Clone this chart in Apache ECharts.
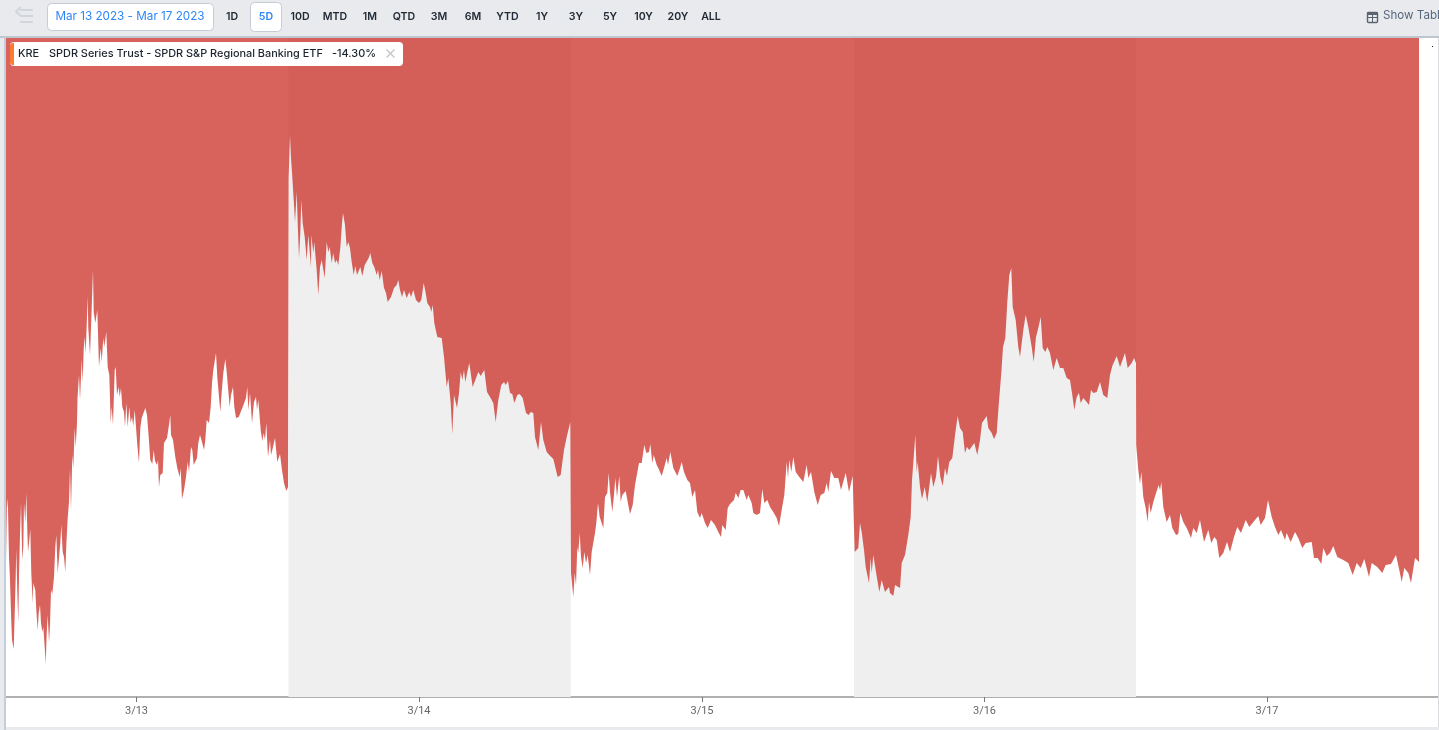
<!DOCTYPE html>
<html>
<head>
<meta charset="utf-8">
<title>KRE</title>
<style>html,body{margin:0;padding:0;background:#fff;overflow:hidden}#c{width:1439px;height:730px}</style>
<script src="https://cdn.jsdelivr.net/npm/echarts@6/dist/echarts.min.js"></script>
</head>
<body>
<div id="c"></div>
<script>
// Tick labels and where they sit on the session clock
const tickLabels = ['3/13','3/14','3/15','3/16','3/17'];
const tickTimes = [130.5,413,696,978.5,1261];
// Alternate day shading [from, to]
const shadedDays = [[282.5,564.8],[848,1130]];
const rangeButtons = ['1D','5D','10D','MTD','1M','QTD','3M','6M','YTD','1Y','3Y','5Y','10Y','20Y','ALL'];
const rangeCenters = [232,266,300,335,370,404,439,473,507.5,542,576,610,643.5,678,711];
const symbolName = 'KRE';
const fundName = 'SPDR Series Trust - SPDR S&P Regional Banking ETF';
const changeText = '-14.30%';

// [session time, level]
const day1 = [[0,137],[1,199],[2,189],[3,140],[4,117],[5,84],[6,57],[7.7,48],[8.7,84],[9.7,120],[10.3,148],[11.3,104],[12.3,75],[13,122],[14,162],[15,194],[16.3,137],[17.3,150],[18,194],[19.3,174],[20.3,204],[21.3,167],[22,145],[23.3,157],[24.3,168],[25.3,124],[26.7,94],[27.3,114],[29.3,107],[30.3,87],[31.7,67],[32.7,84],[34,92],[35,74],[36.3,65],[37.3,70],[38.7,50],[39.7,33],[40.7,64],[41.7,82],[43,55],[44,72],[45,107],[46.3,103],[48,120],[49.3,150],[50.3,162],[51.7,124],[53,139],[54.3,154],[55.3,172],[56.7,145],[58,140],[59.3,125],[60.3,152],[61.7,179],[63,195],[64,229],[65,187],[66.3,242],[67.3,229],[68.7,269],[69.7,250],[71,274],[71.5,299],[73,322],[74,297],[75.7,337],[76.7,315],[77.7,348],[78.7,360],[79.7,344],[81.7,400],[82.3,369],[84,342],[85.7,389],[87,427],[87.7,385],[89.3,374],[91.3,387],[93,330],[94.7,349],[95.7,335],[97.3,359],[98.3,350],[100.3,365],[101.7,330],[103.3,322],[104.7,274],[105.7,290],[107,272],[108.7,327],[109.7,330],[111,302],[112.7,310],[113.7,300],[115,309],[116.3,290],[118,285],[119,270],[120.3,294],[121.7,270],[123.3,290],[124.7,274],[126,280],[127.3,271],[128.7,287],[130,270],[131.3,252],[133,234],[134.3,269],[135.7,279],[137.7,280],[139.3,289],[141,282],[142.7,260],[144.3,237],[146.3,233],[147.7,247],[149,236],[151,232],[152,237],[153,210],[154.3,222],[156.7,224],[158,254],[159.7,254],[161,259],[162.7,270],[164.3,282],[165,262],[167,257],[169.3,240],[171.3,229],[173.7,220],[174.7,229],[176,198],[178,207],[180,220],[181.7,235],[183,225],[185,250],[186.3,247],[187.7,232],[189.3,233],[191,239],[192.3,254],[194,262],[196,255],[198,247],[199.3,257],[200.7,277],[203,274],[204.7,290],[206,314],[207.3,327],[210,344],[211.3,320],[213,320],[214.3,285],[215.7,305],[217.3,324],[219.3,338],[220.7,325],[222.3,325],[223.7,290],[225,302],[227,310],[228.3,290],[230,279],[232.7,280],[234.7,285],[236.7,290],[238.3,288],[240,299],[241.3,310],[242.3,287],[244,304],[246,274],[248,295],[250,300],[251,287],[252.3,297],[254.7,267],[256.3,256],[257.7,264],[259,257],[260.3,274],[262,240],[264,257],[265,242],[266.3,247],[267.7,245],[269,259],[271.3,235],[274,243],[276,227],[278,214],[280.3,206],[282,210],[282.4,208]];
const day2 = [[282.6,519],[284,562],[285,539],[286.3,520],[287.7,497],[289,475],[290.7,505],[291.7,474],[293,439],[294.3,464],[295.3,497],[296.7,474],[298.7,460],[300.7,437],[302.3,462],[305,430],[305.3,462],[307.3,444],[308.3,455],[310.7,427],[312.3,402],[314,430],[315.7,437],[318.7,419],[320.7,455],[322.3,445],[323.7,450],[325.7,434],[327.3,444],[329,434],[330.7,437],[332.3,432],[334.3,449],[336,474],[337,484],[339,472],[340.7,450],[342.3,455],[344,449],[345.7,435],[347.7,422],[349.3,431],[351,422],[352.7,420],[354.3,430],[356.3,421],[358.7,432],[360.7,434],[362.7,439],[364.3,444],[366.3,434],[368.3,430],[370.7,422],[372,427],[373.7,417],[375.7,426],[378,409],[380,404],[381.7,395],[385,400],[388,409],[390.7,412],[392.3,417],[394,407],[396,400],[398,407],[400.7,399],[403.3,405],[405,400],[407.3,407],[410,397],[413,394],[415.3,397],[417.7,414],[419.7,404],[421.3,394],[424,390],[425.3,385],[426.7,392],[428.3,374],[431.3,360],[435.7,359],[438,340],[440.7,310],[442.3,319],[444.7,294],[446.3,263],[448,302],[449.7,300],[451,289],[453,304],[454.7,325],[456.3,317],[458,327],[459.3,315],[461.3,325],[463.3,334],[466.7,310],[469.3,317],[472.3,325],[474.7,321],[478.3,327],[481,305],[484,300],[487.3,294],[489.7,275],[492.3,297],[495.3,312],[498,315],[499.7,312],[502,316],[504,304],[506.3,303],[508.3,294],[511.3,302],[513.7,303],[516.7,299],[520,284],[522.7,282],[524.7,285],[527.3,284],[529,260],[532.3,247],[535,275],[537.3,257],[540.7,245],[543.3,242],[547.3,238],[551.7,220],[554.7,222],[558,247],[560.7,260],[564.3,275]];
const day3 = [[565,124],[567.3,100],[568.7,124],[570,112],[571.3,150],[572.3,144],[573.7,164],[575,140],[576.7,129],[578.3,145],[580,134],[581.7,142],[584,122],[585.7,145],[587.3,147],[589,164],[590.3,174],[592,194],[593.7,180],[595.7,182],[597.3,169],[599,200],[601.3,204],[602.7,224],[604,205],[606.3,185],[608,202],[609.3,219],[611,200],[613.3,221],[614.7,195],[616.3,202],[619.7,206],[621.7,195],[624,183],[626.7,192],[629,212],[631,214],[633,234],[635.7,234],[638.3,252],[640.3,244],[643,245],[644.3,253],[646.3,234],[647.7,242],[650.7,232],[652.3,229],[655.7,221],[658,229],[660.7,239],[662,232],[664.3,245],[667.3,229],[671.3,221],[674,229],[675.7,235],[678,225],[681.3,217],[684,214],[686.3,200],[689,207],[691.3,185],[694,179],[695.7,184],[699,174],[701.7,169],[705,177],[709,172],[712.3,165],[715,160],[716.3,172],[718,170],[719.7,167],[721.7,189],[724,193],[728,197],[729.7,204],[732.3,199],[734.7,207],[737.3,207],[740.7,197],[742.3,202],[745.7,194],[747.3,184],[750.7,182],[754,184],[756.3,208],[758.3,194],[761.3,197],[764,190],[767.3,185],[770.7,179],[773,171],[775.7,187],[778.3,202],[780.7,235],[782,219],[783.3,237],[785.3,225],[787.3,240],[789.7,225],[793.3,220],[797.3,215],[800.7,232],[802.3,219],[805,225],[808.3,205],[811.7,192],[814.7,202],[818.3,204],[820.7,214],[822.3,205],[825,226],[828.3,219],[832.3,219],[835,207],[839.7,224],[843,205],[846.7,221]];
const day4 = [[847.7,179],[848.7,145],[852.3,149],[854,174],[855.7,165],[858,147],[859.7,130],[863,114],[864.7,139],[865.7,124],[867.3,142],[870,125],[873.3,105],[875.7,117],[879,105],[883,110],[884,104],[887.3,101],[889,112],[894,109],[895.7,134],[899,142],[902.3,162],[904.7,180],[906,217],[907.3,234],[909.3,262],[910.7,225],[911.7,235],[914,210],[916,198],[918.7,210],[921.3,195],[925,224],[927.3,210],[930,220],[932,241],[934.3,220],[936.7,211],[939,229],[941,221],[943.3,235],[946.3,239],[949.3,264],[951.7,281],[954,269],[956.7,265],[959,244],[961,250],[963.3,247],[968.3,254],[971.3,242],[974,257],[976,274],[980.7,281],[982.3,269],[985.7,264],[988,258],[990.7,264],[992.7,292],[995.3,324],[997,350],[999.3,359],[1001.3,395],[1003.3,422],[1005.3,429],[1006.7,390],[1009.7,377],[1012.3,350],[1014,340],[1017.3,367],[1019.7,382],[1022.3,370],[1025.7,350],[1027.7,335],[1030,360],[1032.3,369],[1034.7,380],[1036.7,349],[1039.3,345],[1041.3,350],[1044,344],[1047.3,327],[1050.7,339],[1054,329],[1057.3,329],[1060.7,319],[1064,317],[1066.3,302],[1068.3,287],[1070.7,300],[1073,304],[1074.7,294],[1077.3,299],[1080.7,295],[1083,292],[1085,307],[1087.3,304],[1090.7,305],[1094,315],[1097.3,302],[1101.3,299],[1104,322],[1106.3,331],[1110.7,341],[1114,330],[1119,344],[1121.7,329],[1125.7,334],[1128,339],[1130,334]];
const day5 = [[1130.2,252],[1132.3,227],[1134,213],[1135.3,225],[1137.3,200],[1139.7,189],[1141.7,175],[1143,195],[1144.7,184],[1147.3,195],[1149.3,194],[1150.7,206],[1152.7,212],[1154,207],[1155.3,215],[1157.3,190],[1160.7,175],[1164,182],[1166.3,169],[1168,170],[1170,162],[1172.3,163],[1174.3,184],[1177.3,175],[1180.7,169],[1185,159],[1187.3,169],[1190.7,164],[1194,177],[1198,155],[1202.3,167],[1205.3,154],[1208.3,160],[1210.7,157],[1213.3,139],[1217.3,144],[1221,155],[1224,145],[1228,160],[1231.3,170],[1235,164],[1239.7,177],[1243.3,170],[1249,177],[1252.3,181],[1254.7,172],[1259,179],[1262,197],[1265.7,180],[1269,170],[1272.3,162],[1275,167],[1279,157],[1280.7,164],[1284.7,155],[1289,165],[1292.3,159],[1296.3,149],[1299.7,154],[1305.7,155],[1308,139],[1311.7,139],[1315.3,133],[1317.3,149],[1320.7,141],[1324,144],[1327.3,151],[1331.3,140],[1337.3,137],[1342.3,134],[1346.7,122],[1350.7,134],[1354.7,129],[1358.3,138],[1363,120],[1365.7,134],[1371.3,130],[1376.3,124],[1379.7,132],[1385,133],[1390,142],[1393.3,127],[1395.7,115],[1398.3,129],[1402.3,124],[1405,114],[1409,139],[1413,135]];

const chart = echarts.init(document.getElementById('c'), null, {renderer:'canvas'});
const UI = 'Inter, "Noto Sans", sans-serif';
const graphic = [
  {type:'rect',z:50,shape:{x:0,y:0,width:1439,height:37},style:{fill:'#e8eaed'}},
  {type:'rect',z:51,shape:{x:0,y:36,width:1439,height:2},style:{fill:'#bfc6d0'}},
  {type:'rect',z:50,shape:{x:0,y:0,width:4,height:730},style:{fill:'#e8eaed'}},
  {type:'rect',z:51,shape:{x:4,y:37,width:2,height:693},style:{fill:'#c3cedb'}},
  {type:'rect',z:50,shape:{x:0,y:727,width:1439,height:3},style:{fill:'#e8eaed'}},
  {type:'rect',z:50,shape:{x:1438,y:38,width:1,height:689},style:{fill:'#d8dbdf'}},
  {type:'rect',z:52,shape:{x:1432,y:46,width:1,height:1},style:{fill:'#222'}},
  // back arrow
  {type:'rect',z:52,shape:{x:20,y:9,width:13,height:2},style:{fill:'#d2d5d9'}},
  {type:'rect',z:52,shape:{x:20,y:15,width:13,height:2},style:{fill:'#d2d5d9'}},
  {type:'rect',z:52,shape:{x:20,y:21,width:13,height:2},style:{fill:'#d2d5d9'}},
  {type:'polyline',z:52,shape:{points:[[21,7],[16,11.5],[21,16]]},style:{stroke:'#d2d5d9',lineWidth:2,fill:'none'}},
  // date box
  {type:'rect',z:52,shape:{x:47.5,y:3.5,width:166,height:27,r:4},style:{fill:'#fff',stroke:'#c5ccd6',lineWidth:1}},
  {type:'text',z:53,x:130,y:16.5,style:{text:'Mar 13 2023 - Mar 17 2023',font:'400 11.7px '+UI,fill:'#2f86f6',align:'center',verticalAlign:'middle'}},
  // 5D box
  {type:'rect',z:52,shape:{x:250.5,y:2.5,width:31,height:29,r:4},style:{fill:'#fff',stroke:'#c5ccd6',lineWidth:1}},
  // legend
  {type:'rect',z:52,shape:{x:10,y:42,width:393,height:24,r:4},style:{fill:'#fff'}},
  {type:'rect',z:53,shape:{x:10,y:43,width:4,height:22,r:[3,0,0,3]},style:{fill:'#ff7a2f'}},
  {type:'text',z:53,x:18,y:53.5,style:{text:symbolName,font:'500 10.9px '+UI,fill:'#1c2430',verticalAlign:'middle'}},
  {type:'text',z:53,x:49,y:53.5,style:{text:fundName,font:'500 10.9px '+UI,fill:'#1c2430',verticalAlign:'middle'}},
  {type:'text',z:53,x:332,y:53.5,style:{text:changeText,font:'500 10.9px '+UI,fill:'#1c2430',verticalAlign:'middle'}},
  {type:'line',z:53,shape:{x1:386.5,y1:49.5,x2:394.5,y2:57.5},style:{stroke:'#c8c8c8',lineWidth:1.5}},
  {type:'line',z:53,shape:{x1:394.5,y1:49.5,x2:386.5,y2:57.5},style:{stroke:'#c8c8c8',lineWidth:1.5}},
  // show table
  {type:'rect',z:52,shape:{x:1367.5,y:12.5,width:10,height:10,r:1},style:{fill:'none',stroke:'#5b6572',lineWidth:1.4}},
  {type:'rect',z:52,shape:{x:1367,y:12,width:11,height:3},style:{fill:'#5b6572'}},
  {type:'rect',z:52,shape:{x:1367,y:17,width:11,height:1},style:{fill:'#5b6572'}},
  {type:'rect',z:52,shape:{x:1372,y:13,width:1,height:10},style:{fill:'#5b6572'}},
  {type:'text',z:53,x:1383,y:16,style:{text:'Show Table',font:'400 11.6px '+UI,fill:'#56667d',verticalAlign:'middle'}}
];
rangeButtons.forEach((t,i)=>graphic.push({type:'text',z:53,x:rangeCenters[i],y:16.5,style:{text:t,font:'600 10.6px '+UI,fill:t==='5D'?'#2f86f6':'#222a35',align:'center',verticalAlign:'middle'}}));

chart.setOption({
  animation:false,
  backgroundColor:'#fff',
  grid:{left:6,right:0,top:38,bottom:33,containLabel:false},
  xAxis:{type:'value',min:0,max:1433,splitLine:{show:false},
    axisLine:{show:true,onZero:false,lineStyle:{color:'#b0b0b0',width:2}},
    axisTick:{show:true,customValues:tickTimes,length:5,lineStyle:{color:'#777',width:1}},
    axisLabel:{show:true,customValues:tickTimes,margin:9,fontSize:11,fontFamily:'Roboto, sans-serif',color:'#666',
      formatter:v=>tickLabels[tickTimes.indexOf(v)]||''}},
  yAxis:{type:'value',min:0,max:659,show:false},
  graphic:{elements:graphic},
  series:[
    {type:'line',z:1,silent:true,data:[],markArea:{silent:true,itemStyle:{color:'#efefef'},
      data:shadedDays.map(d=>[{xAxis:d[0]},{xAxis:d[1]}])}},
    {type:'line',z:2,silent:true,showSymbol:false,sampling:false,
      data:[...day1,...day2,...day3,...day4,...day5],
      lineStyle:{width:0},
      areaStyle:{origin:'end',color:'rgb(203,46,38)',opacity:0.75}}
  ]
});
</script>
</body>
</html>
